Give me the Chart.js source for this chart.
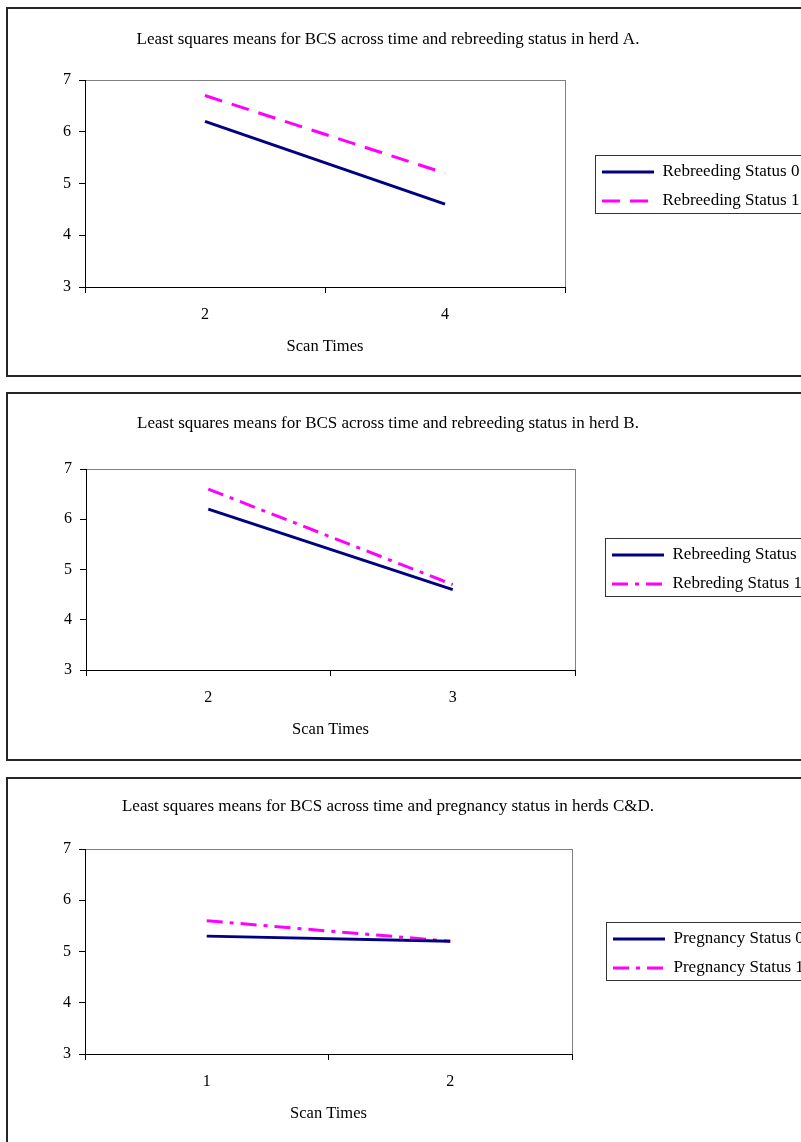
<!DOCTYPE html>
<html>
<head>
<meta charset="utf-8">
<title>BCS least squares means</title>
<script src="https://cdn.jsdelivr.net/npm/chart.js@4/dist/chart.umd.min.js"></script>
<style>
html, body { margin: 0; padding: 0; background: #fff; overflow: hidden; }
body { width: 801px; height: 1142px; position: relative; }
.panel { position: absolute; left: 6px; width: 900px; border: 2px solid #262626; background: #fff; }
.panel canvas { display: block; }
</style>
</head>
<body>
<div class="panel" style="top: 7px; height: 366px;"><canvas id="chartHerdA" width="900" height="366"></canvas></div>
<div class="panel" style="top: 392px; height: 365px;"><canvas id="chartHerdB" width="900" height="365"></canvas></div>
<div class="panel" style="top: 777px; height: 370px;"><canvas id="chartHerdCD" width="900" height="370"></canvas></div>

<script>
// scan times (x categories) and BCS means per status
var herdATimes = ['2', '4'];
var herdAStatus0 = [6.2, 4.6];
var herdAStatus1 = [6.7, 5.2];

var herdBTimes = ['2', '3'];
var herdBStatus0 = [6.2, 4.6];
var herdBStatus1 = [6.6, 4.7];

var herdCDTimes = ['1', '2'];
var herdCDStatus0 = [5.3, 5.2];
var herdCDStatus1 = [5.6, 5.2];

var herdATitle = 'Least squares means for BCS across time and rebreeding status in herd A.';
var herdBTitle = 'Least squares means for BCS across time and rebreeding status in herd B.';
var herdCDTitle = 'Least squares means for BCS across time and pregnancy status in herds C&D.';

var herdALabels = ['Rebreeding Status 0', 'Rebreeding Status 1'];
var herdBLabels = ['Rebreeding Status 0', 'Rebreding Status 1'];
var herdCDLabels = ['Pregnancy Status 0', 'Pregnancy Status 1'];

var xAxisLabel = 'Scan Times';
var bcsMin = 3, bcsMax = 7;

Chart.defaults.font.family = '"Liberation Serif", "Times New Roman", serif';
Chart.defaults.color = '#000';

var NAVY = '#000080';
var MAGENTA = '#ff00ff';
var FRAME_GRAY = '#808080';
var CANVAS_W = 900;
var BOX_LEFT = -35;     // title is centred on [BOX_LEFT, BOX_RIGHT]
var BOX_RIGHT = 795;
var LEGEND_PAD = 12;

// box around the legend entries, like the old spreadsheet legend
var legendFrame = {
	id: 'legendFrame',
	afterDraw: function(chart) {
		var boxes = chart.legend && chart.legend.legendHitBoxes;
		if (!boxes || !boxes.length) return;
		var first = boxes[0], last = boxes[boxes.length - 1];
		var right = 0;
		boxes.forEach(function(b) { right = Math.max(right, b.left + b.width); });
		var x0 = Math.round(first.left - 7), y0 = Math.round(first.top - 9);
		var x1 = Math.round(right + 4), y1 = Math.round(last.top + last.height + 3);
		var ctx = chart.ctx;
		ctx.save();
		ctx.strokeStyle = '#333';
		ctx.lineWidth = 1;
		ctx.strokeRect(x0 + 0.5, y0 + 0.5, x1 - x0, y1 - y0);
		ctx.restore();
	}
};

// legend samples take width and dash from the dataset line, not the point
function lineLegendLabels(chart) {
	var items = Chart.defaults.plugins.legend.labels.generateLabels(chart);
	items.forEach(function(it) {
		var ds = chart.data.datasets[it.datasetIndex];
		it.lineWidth = ds.borderWidth;
		it.lineDash = ds.borderDash || [];
		it.strokeStyle = ds.borderColor;
	});
	return items;
}

function bcsChart(canvasID, box, title, times, names, status0, status1, dash1) {
	var height = document.getElementById(canvasID).height;
	var titleSize = 17, titleLH = titleSize * 1.2;
	var axisTitleSize = 16.5, axisTitleLH = axisTitleSize * 1.2;

	var ctx = document.getElementById(canvasID).getContext('2d');
	return new Chart(ctx, {
		type: 'line',
		data: {
			labels: times,
			datasets: [
				{
					label: names[0],
					data: status0,
					borderColor: NAVY, backgroundColor: NAVY, borderWidth: 3,
					xAxisID: 'x', yAxisID: 'y'
				},
				{
					label: names[1],
					data: status1,
					borderColor: MAGENTA, backgroundColor: MAGENTA, borderWidth: 3,
					borderDash: dash1,
					xAxisID: 'x', yAxisID: 'y'
				}
			]
		},
		options: {
			responsive: false,
			animation: false,
			layout: { padding: { left: BOX_LEFT, top: 0, bottom: 0, right: CANVAS_W - BOX_RIGHT } },
			elements: {
				point: { radius: 0 },
				line: { tension: 0, borderCapStyle: 'butt' }
			},
			scales: {
				x: {
					type: 'category',
					offset: true,
					grid: {
						offset: true,
						drawOnChartArea: true,
						color: function(c) { return c.type === 'tick' ? 'rgba(0,0,0,0)' : FRAME_GRAY; },
						tickColor: '#000',
						tickLength: 6
					},
					border: { color: '#000', width: 1 },
					ticks: { font: { size: 16 }, padding: 12, color: '#000' },
					title: {
						display: true, text: xAxisLabel, color: '#000',
						font: { size: axisTitleSize, lineHeight: 1.2 },
						padding: { top: 0, bottom: height - box.scanY - axisTitleLH / 2 }
					},
					afterFit: function(s) { s.height = height - box.plotBottom; }
				},
				y: {
					type: 'linear',
					min: bcsMin, max: bcsMax,
					grid: {
						drawOnChartArea: true,
						color: function(c) { return (c.tick && c.tick.value === bcsMax) ? FRAME_GRAY : 'rgba(0,0,0,0)'; },
						tickColor: '#000',
						tickLength: 6
					},
					border: { color: '#000', width: 1 },
					ticks: { stepSize: 1, font: { size: 16 }, padding: 8, color: '#000' },
					afterFit: function(s) { s.width = box.plotLeft - BOX_LEFT; }
				},
				gap: {
					type: 'linear',
					position: 'right',
					display: true,
					grid: { display: false },
					border: { display: false },
					ticks: { display: false },
					afterFit: function(s) { s.width = box.legendX - LEGEND_PAD - box.plotRight; }
				}
			},
			plugins: {
				title: {
					display: true,
					text: title,
					color: '#000',
					font: { size: titleSize, weight: 'normal', lineHeight: 1.2 },
					padding: { top: box.titleY - titleLH / 2, bottom: box.plotTop - box.titleY - titleLH / 2 }
				},
				legend: {
					display: true,
					position: 'right',
					align: 'center',
					fullSize: false,
					maxWidth: BOX_RIGHT - box.legendX + LEGEND_PAD,
					// empty legend title, only used to nudge the entries down
					title: { display: box.legendDrop > 0, text: '', font: { size: box.legendDrop * 2 || 1, lineHeight: 1 }, padding: 0 },
					labels: {
						usePointStyle: true,
						pointStyle: 'line',
						pointStyleWidth: 52,
						padding: LEGEND_PAD,
						color: '#000',
						font: { size: 17 },
						generateLabels: lineLegendLabels
					}
				},
				tooltip: { enabled: false }
			}
		},
		plugins: [legendFrame]
	});
}

bcsChart('chartHerdA',
	{ plotLeft: 77, plotRight: 557, plotTop: 71, plotBottom: 278, titleY: 31, scanY: 338, legendX: 594, legendDrop: 3 },
	herdATitle, herdATimes, herdALabels, herdAStatus0, herdAStatus1, [18, 10]);

bcsChart('chartHerdB',
	{ plotLeft: 78, plotRight: 567, plotTop: 75, plotBottom: 276, titleY: 30, scanY: 336, legendX: 604, legendDrop: 0 },
	herdBTitle, herdBTimes, herdBLabels, herdBStatus0, herdBStatus1, [16, 7, 4, 7]);

bcsChart('chartHerdCD',
	{ plotLeft: 77, plotRight: 564, plotTop: 70, plotBottom: 275, titleY: 28, scanY: 335, legendX: 605, legendDrop: 2 },
	herdCDTitle, herdCDTimes, herdCDLabels, herdCDStatus0, herdCDStatus1, [16, 7, 4, 7]);
</script>
</body>
</html>
